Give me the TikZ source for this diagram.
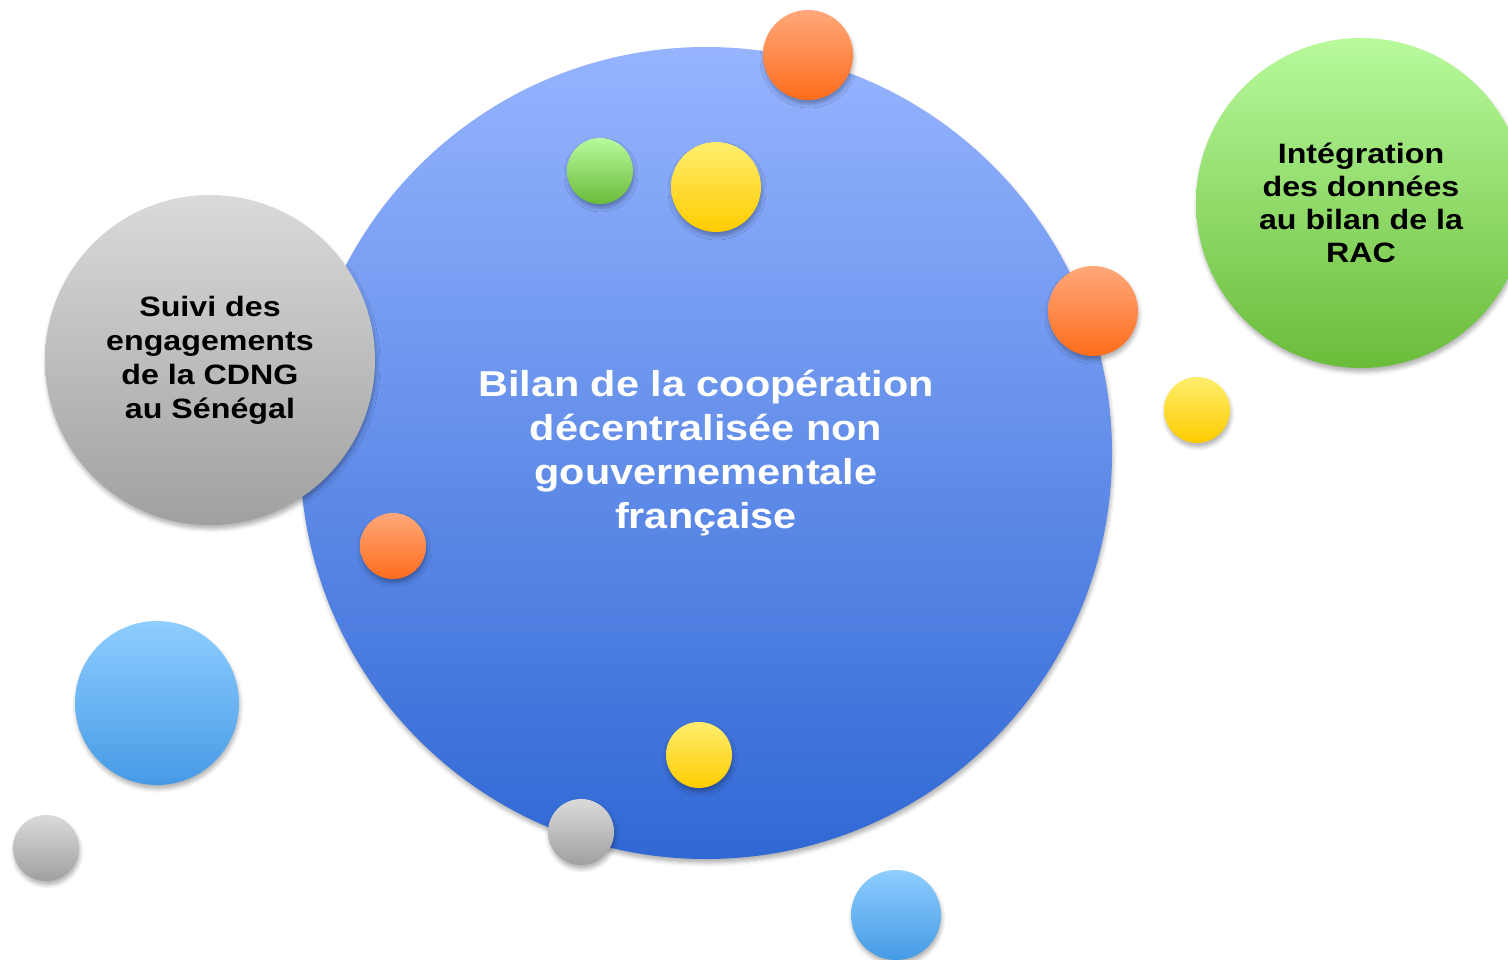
\documentclass[tikz,border=0pt]{standalone}
\usepackage{fontspec}
\newfontfamily\bubblefont[FakeStretch=1.15]{Liberation Sans}
\usetikzlibrary{shadows.blur}
\definecolor{bleuA}{RGB}{150,180,255}\definecolor{bleuB}{RGB}{48,104,212}
\definecolor{grisA}{RGB}{218,218,218}\definecolor{grisB}{RGB}{160,160,160}
\definecolor{vertA}{RGB}{184,250,156}\definecolor{vertB}{RGB}{106,188,58}
\definecolor{orA}{RGB}{255,168,122}\definecolor{orB}{RGB}{255,108,28}
\definecolor{jauneA}{RGB}{255,238,110}\definecolor{jauneB}{RGB}{255,204,0}
\definecolor{cielA}{RGB}{142,206,255}\definecolor{cielB}{RGB}{70,154,230}
\tikzset{bulle/.style={circle,inner sep=0pt,align=center,blur shadow={shadow xshift=1pt,shadow yshift=-4pt,shadow blur radius=4pt,shadow opacity=30}},
  bGris/.style={bulle,top color=grisA,bottom color=grisB},
  bVert/.style={bulle,top color=vertA,bottom color=vertB},
  bOr/.style={bulle,top color=orA,bottom color=orB},
  bJaune/.style={bulle,top color=jauneA,bottom color=jauneB},
  bCiel/.style={bulle,top color=cielA,bottom color=cielB}}
\begin{document}
\begin{tikzpicture}[x=1pt,y=-1pt]
\useasboundingbox (0,0) rectangle (1508,960);\clip (0,0) rectangle (1508,960);
% grande bulle centrale
\node[bulle,top color=bleuA,bottom color=bleuB,minimum size=812pt,text=white,font=\bubblefont\bfseries\fontsize{36}{44}\selectfont] (bilan) at (706,453) {Bilan de la coopération\\décentralisée non\\gouvernementale\\française};
\node[bGris,minimum size=330pt,font=\bubblefont\bfseries\fontsize{28}{34}\selectfont] (suivi) at (210,360) {Suivi des\\engagements\\de la CDNG\\au Sénégal};
\node[bVert,minimum size=330pt,font=\bubblefont\bfseries\fontsize{28}{33}\selectfont] (rac) at (1361,203) {Intégration\\des données\\au bilan de la\\RAC};
% petites bulles
\node[bOr,minimum size=90pt] (or1) at (808,55) {};
\node[bVert,minimum size=66pt] (vert1) at (600,171) {};
\node[bJaune,minimum size=90pt] (jaune1) at (716,187) {};
\node[bOr,minimum size=90pt] (or2) at (1093,311) {};
\node[bJaune,minimum size=66pt] (jaune2) at (1197,410) {};
\node[bOr,minimum size=66pt] (or3) at (393,546) {};
\node[bCiel,minimum size=164pt] (ciel1) at (157,703) {};
\node[bJaune,minimum size=66pt] (jaune3) at (699,755) {};
\node[bGris,minimum size=66pt] (gris1) at (581,832) {};
\node[bGris,minimum size=66pt] (gris2) at (46,848) {};
\node[bCiel,minimum size=90pt] (ciel2) at (896,915) {};
\end{tikzpicture}
\end{document}
